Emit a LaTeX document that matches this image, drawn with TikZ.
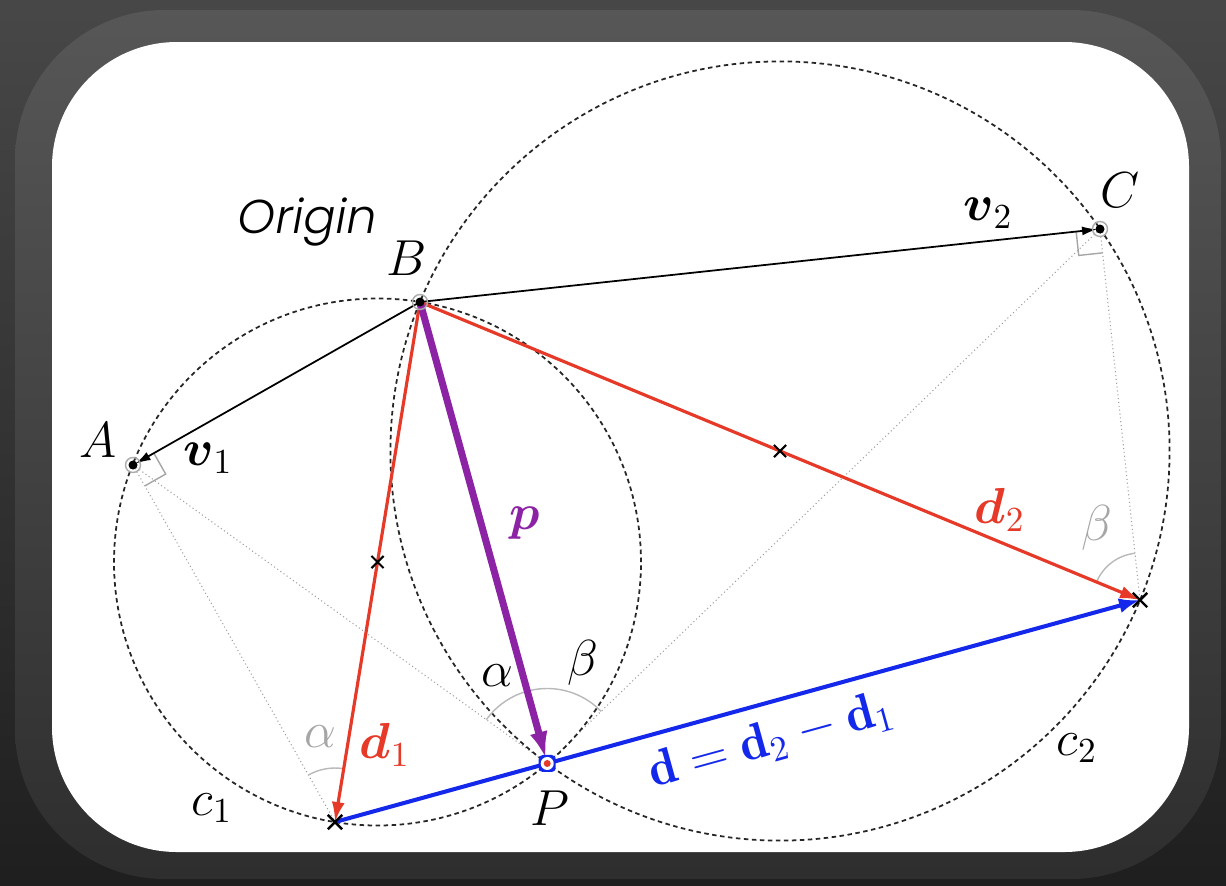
\documentclass[tikz,border=0pt]{standalone}
\usepackage{amsmath}
\usepackage{fontspec}
\newfontfamily\originfont{Poppins Light}[FakeSlant=0.18]
\usetikzlibrary{calc,arrows.meta,angles,shapes.misc}

\definecolor{dred}{RGB}{230,57,40}
\definecolor{dblue}{RGB}{20,40,235}
\definecolor{dpurple}{RGB}{140,35,165}

\tikzset{
  circ/.style={black!85, line width=0.5pt, dash pattern=on 0.45mm off 0.35mm},
  chord/.style={gray!75, line width=0.3pt, dash pattern=on 0.3pt off 0.8pt},
  vec/.style={line width=0.5pt, -{Latex[length=1.5mm,width=0.9mm]}},
  dvec/.style={dred, line width=0.9pt, -{Latex[length=2mm,width=1.3mm]}},
  bvec/.style={dblue, line width=1.15pt, -{Latex[length=2.1mm,width=1.5mm]}},
  pvec/.style={dpurple, line width=2pt, -{Latex[length=2.7mm,width=1.8mm]}},
  xmark/.style={cross out, draw, line width=0.7pt, minimum size=1.2mm, inner sep=0pt},
  rangle/.style={gray!70, line width=0.4pt},
  arcmark/.style={draw=gray!55, line width=0.4pt},
  lbl/.style={font=\Large, inner sep=0pt}
}

\begin{document}
\begin{tikzpicture}[x=0.1mm, y=-0.1mm]
% frame
\shade[top color=black!72, bottom color=black!88] (0,0) rectangle (1226,885);
\shade[rounded corners=15mm, top color=black!66, bottom color=black!82] (15,10) rectangle (1221,879);
\fill[white, rounded corners=12.5mm] (52,42) rectangle (1189,852);

% points
\coordinate (B) at (420,302);
\coordinate (A) at (133,465);
\coordinate (C) at (1100,229);
\coordinate (X1) at (335,822);
\coordinate (X2) at (1140,600);
\coordinate (P) at ($(X1)!(B)!(X2)$);
\coordinate (M1) at ($(B)!0.5!(X1)$);
\coordinate (M2) at ($(B)!0.5!(X2)$);

% dotted chords
\draw[chord] (A) -- (X1) (A) -- (P);
\draw[chord] (C) -- (X2) (C) -- (P);

% circles c1, c2
\draw[circ] (M1) circle[radius=26.35mm];
\draw[circ] (M2) circle[radius=38.96mm];

% angles
\pic[arcmark, angle radius=5.4mm] {angle = B--X1--A};
\pic[arcmark, angle radius=7.5mm] {angle = C--P--A};
\pic[arcmark, angle radius=4.7mm] {angle = C--X2--B};

\coordinate (a1) at ($(A)!2.4mm!(B)$);
\coordinate (a2) at ($(A)!2.4mm!(X1)$);
\draw[rangle] (a1) -- ($(a1)+(a2)-(A)$) -- (a2);
\coordinate (c1) at ($(C)!2.4mm!(B)$);
\coordinate (c2) at ($(C)!2.4mm!(X2)$);
\draw[rangle] (c1) -- ($(c1)+(c2)-(C)$) -- (c2);

% vectors
\draw[vec, shorten >=0.3mm] (B) -- (A);
\draw[vec, shorten >=0.3mm] (B) -- (C);
\draw[dvec] (B) -- (X1);
\draw[dvec] (B) -- (X2);
\draw[bvec] (X1) -- (X2);
\draw[pvec, shorten >=0.5mm] (B) -- (P);

% markers
\node[xmark] (x1m) at (X1) {};
\node[xmark] (x2m) at (X2) {};
\node[xmark, minimum size=1mm, line width=0.6pt] (m1m) at (M1) {};
\node[xmark, minimum size=1mm, line width=0.6pt] (m2m) at (M2) {};
\foreach \pt in {A,B,C}{
  \draw[gray!65, line width=0.4pt] (\pt) circle[radius=0.75mm];
  \fill (\pt) circle[radius=0.45mm];
}
\node[fill=dblue, rounded corners=0.4mm, minimum size=1.7mm, inner sep=0pt] (pm) at (P) {};
\fill[white] (P) circle[radius=0.65mm];
\fill[dred] (P) circle[radius=0.35mm];

% labels
\node[inner sep=0pt, font=\fontsize{13.5}{16}\originfont] (orig) at (305,222) {Origin};
\node[lbl] (labB) at (407,258) {$B$};
\node[lbl] (labA) at (98,440) {$A$};
\node[lbl] (labC) at (1120,190) {$C$};
\node[lbl] (labP) at (550,808) {$P$};
\node[lbl] (labv1) at (208,458) {$\boldsymbol{v}_1$};
\node[lbl] (labv2) at (988,213) {$\boldsymbol{v}_2$};
\node[lbl, text=dpurple] (labp) at (525,523) {$\boldsymbol{p}$};
\node[lbl, text=dred] (labd1) at (385,745) {$\boldsymbol{d}_1$};
\node[lbl, text=dred] (labd2) at (1000,510) {$\boldsymbol{d}_2$};
\node[lbl, text=dblue, rotate=15.4] (labd) at (771,741) {$\mathbf{d}=\mathbf{d}_2-\mathbf{d}_1$};
\node[lbl, text=gray!70] (al1) at (320,737) {$\alpha$};
\node[lbl, text=gray!70] (be1) at (1097,528) {$\beta$};
\node[lbl] (al2) at (497,676) {$\alpha$};
\node[lbl] (be2) at (583,663) {$\beta$};
\node[lbl] (labc1) at (212,808) {$c_1$};
\node[lbl] (labc2) at (1077,748) {$c_2$};
\end{tikzpicture}
\end{document}
